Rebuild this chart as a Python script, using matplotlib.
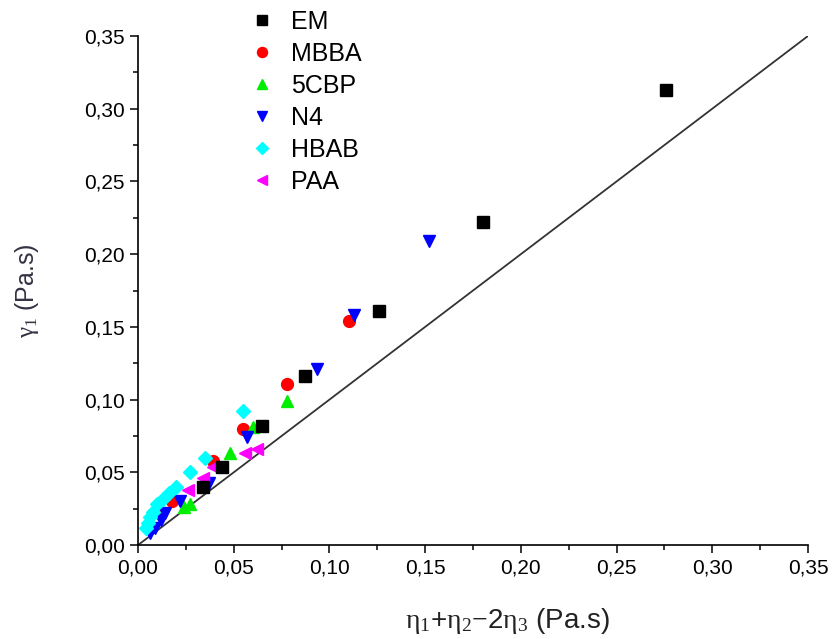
import matplotlib
matplotlib.use("Agg")
import matplotlib.pyplot as plt
from matplotlib.ticker import MultipleLocator, FuncFormatter

plt.rcParams['font.family'] = ['Liberation Sans', 'DejaVu Sans']
plt.rcParams['mathtext.fontset'] = 'custom'
plt.rcParams['mathtext.rm'] = 'Liberation Serif'
plt.rcParams['mathtext.it'] = 'Liberation Serif:italic'

# Rotational viscosity vs. combination of Miesowicz viscosities
em_x = [0.034, 0.044, 0.065, 0.087, 0.126, 0.180, 0.276]
em_y = [0.040, 0.054, 0.082, 0.116, 0.161, 0.222, 0.313]

mbba_x = [0.012, 0.018, 0.039, 0.055, 0.078, 0.110]
mbba_y = [0.022, 0.030, 0.058, 0.080, 0.111, 0.154]

cbp_x = [0.024, 0.027, 0.048, 0.060, 0.078]
cbp_y = [0.026, 0.028, 0.063, 0.081, 0.099]

n4_x = [0.006, 0.009, 0.012, 0.014, 0.022, 0.037, 0.057, 0.0935, 0.113, 0.152]
n4_y = [0.008, 0.012, 0.017, 0.022, 0.030, 0.043, 0.074, 0.121, 0.158, 0.209]

hbab_x = [0.004, 0.005, 0.006, 0.008, 0.010, 0.013, 0.016, 0.020, 0.027, 0.035, 0.055]
hbab_y = [0.012, 0.015, 0.019, 0.023, 0.028, 0.032, 0.036, 0.040, 0.050, 0.060, 0.092]

paa_x = [0.026, 0.034, 0.039, 0.056, 0.062]
paa_y = [0.038, 0.046, 0.054, 0.063, 0.066]

ref_line = [0.0, 0.35]

fig = plt.figure(figsize=(8.33, 6.39), dpi=100)
ax = fig.add_axes([0.1657, 0.147, 0.8043, 0.7967])

ax.plot(ref_line, ref_line, color='#333333', lw=1.3, zorder=1)

ms = 8
ax.plot(em_x, em_y, 's', color='black', ms=ms, label='EM', zorder=5)
ax.plot(mbba_x, mbba_y, 'o', color='#ff0000', ms=ms + 0.5, label='MBBA', zorder=3)
ax.plot(cbp_x, cbp_y, '^', color='#00ee00', ms=ms + 1, label='5CBP', zorder=3)
ax.plot(n4_x, n4_y, 'v', color='#0000ff', ms=ms + 1, label='N4', zorder=3)
ax.plot(hbab_x, hbab_y, 'D', color='#00ffff', ms=ms - 0.5, label='HBAB', zorder=3)
ax.plot(paa_x, paa_y, '<', color='#ff00ff', ms=ms + 1, label='PAA', zorder=4)

ax.set_xlim(0, 0.35)
ax.set_ylim(0, 0.35)

fmt = FuncFormatter(lambda v, p: f"{v:.2f}".replace('.', ','))
for axis in (ax.xaxis, ax.yaxis):
    axis.set_major_locator(MultipleLocator(0.05))
    axis.set_minor_locator(MultipleLocator(0.025))
    axis.set_major_formatter(fmt)

ax.tick_params(which='major', direction='out', length=6, width=1.1, labelsize=15)
ax.tick_params(which='minor', direction='out', length=3.5, width=1.1)

for s in ('top', 'right'):
    ax.spines[s].set_visible(False)
for s in ('left', 'bottom'):
    ax.spines[s].set_linewidth(1.2)

ax.set_xlabel(r'$\mathrm{\eta_1}$+$\mathrm{\eta_2}$$-$2$\mathrm{\eta_3}$ (Pa.s)',
              fontsize=20, color='#222222')
ax.xaxis.set_label_coords(0.551, -0.12)
ax.set_ylabel(r'$\mathrm{\gamma_1}$ (Pa.s)', fontsize=18, color='#333344')
ax.yaxis.set_label_coords(-0.145, 0.5)

leg = ax.legend(loc='upper left', bbox_to_anchor=(0.135, 1.095), frameon=False,
                fontsize=18, handletextpad=0.75, labelspacing=0.32, handlelength=0.85,
                markerscale=0.85)

fig.savefig('out.png', dpi=100)
